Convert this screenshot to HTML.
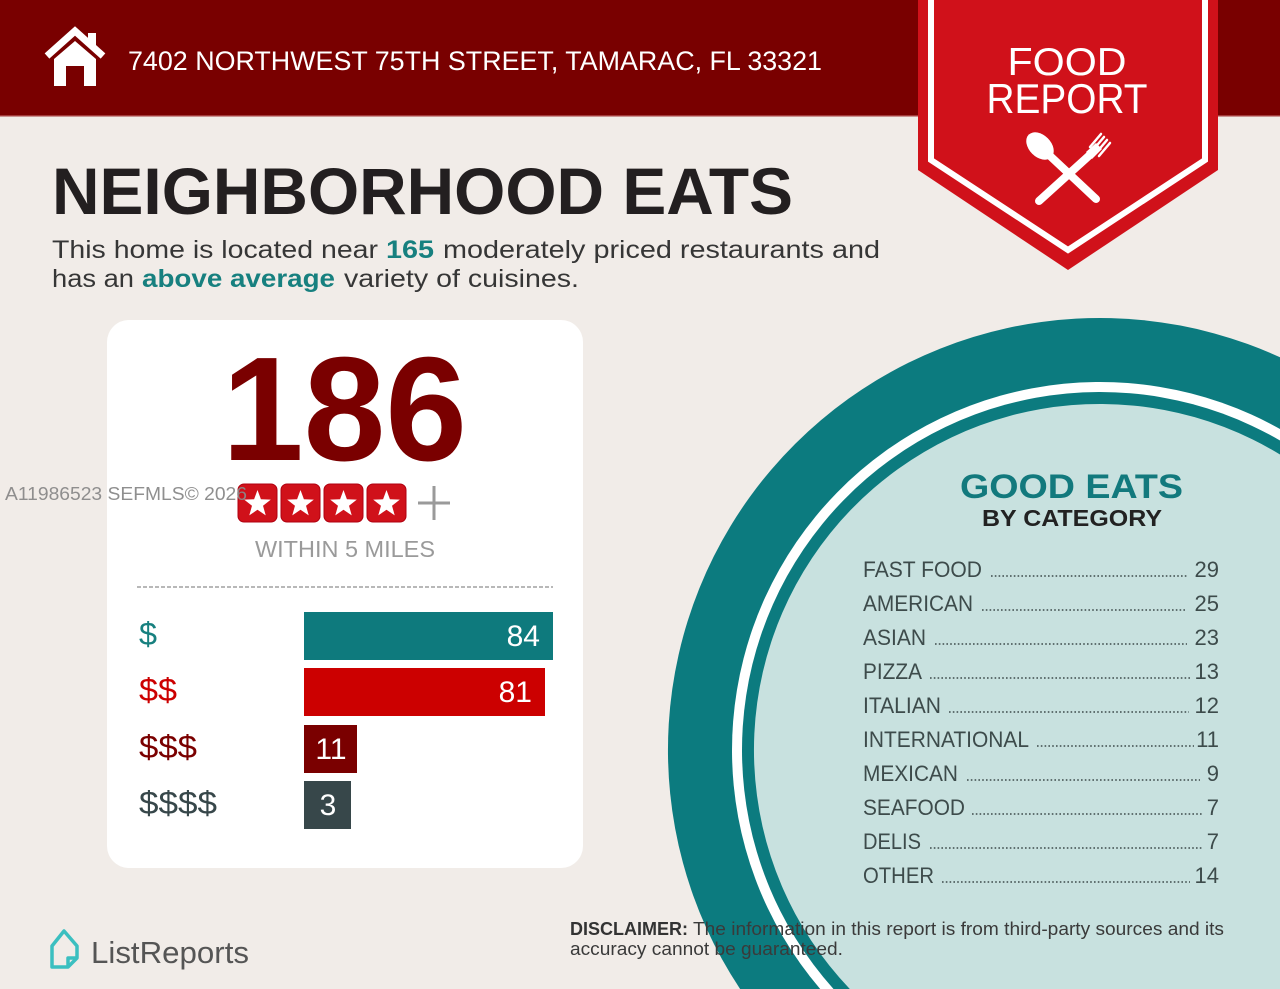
<!DOCTYPE html>
<html>
<head>
<meta charset="utf-8">
<style>
html,body{margin:0;padding:0;background:#f1ece8;width:1280px;height:989px;overflow:hidden;}
svg{display:block;}
text{font-family:"Liberation Sans",Arial,sans-serif;}
</style>
</head>
<body>
<svg width="1280" height="989" viewBox="0 0 1280 989" xmlns="http://www.w3.org/2000/svg" overflow="hidden">
  <rect x="0" y="0" width="1280" height="989" fill="#f1ece8"/>

  <!-- Header -->
  <rect x="0" y="0" width="1280" height="116" fill="#790000"/>
  <rect x="0" y="115" width="1280" height="1.5" fill="#a33a3a"/>

  <!-- House icon -->
  <polyline points="47,56 75,31 103,56" fill="none" stroke="#fff" stroke-width="7" stroke-linejoin="miter"/>
  <rect x="88" y="33" width="8" height="14" fill="#fff"/>
  <polygon points="54,59 75,41 96,59 96,86 84,86 84,66 66,66 66,86 54,86" fill="#fff"/>

  <text x="128" y="70" font-size="27" fill="#fff" textLength="694" lengthAdjust="spacingAndGlyphs">7402 NORTHWEST 75TH STREET, TAMARAC, FL 33321</text>

  <!-- Badge -->
  <polygon points="918,0 1218,0 1218,170 1068,270 918,170" fill="#d0111a"/>
  <polyline points="931,0 931,160 1068,250 1205,160 1205,0" fill="none" stroke="#fff" stroke-width="6"/>
  <text x="1067" y="75" font-size="39" fill="#fff" text-anchor="middle" textLength="119" lengthAdjust="spacingAndGlyphs">FOOD</text>
  <text x="1067" y="113" font-size="42" fill="#fff" text-anchor="middle" textLength="161" lengthAdjust="spacingAndGlyphs">REPORT</text>
  <!-- spoon -->
  <line x1="1048" y1="154" x2="1096" y2="199" stroke="#fff" stroke-width="8" stroke-linecap="round"/>
  <ellipse cx="1040" cy="146" rx="16" ry="11" transform="rotate(45 1040 146)" fill="#fff"/>
  <!-- fork -->
  <line x1="1092" y1="153" x2="1039" y2="201" stroke="#fff" stroke-width="8" stroke-linecap="round"/>
  <path d="M1086,152 L1096,143 L1102,149 L1092,159 Z" fill="#fff"/>
  <g stroke="#fff" stroke-width="2.5" stroke-linecap="round">
    <line x1="1090" y1="147" x2="1101" y2="134"/>
    <line x1="1093" y1="150" x2="1104" y2="137"/>
    <line x1="1096" y1="153" x2="1107" y2="140"/>
    <line x1="1099" y1="156" x2="1110" y2="143"/>
  </g>

  <!-- Title -->
  <text x="52" y="214" font-size="66" font-weight="bold" fill="#231f20" textLength="741" lengthAdjust="spacingAndGlyphs">NEIGHBORHOOD EATS</text>

  <!-- Paragraph -->
  <text x="52" y="258" font-size="25" fill="#363636" textLength="326" lengthAdjust="spacingAndGlyphs">This home is located near</text>
  <text x="386" y="258" font-size="25" font-weight="bold" fill="#17807f" textLength="48" lengthAdjust="spacingAndGlyphs">165</text>
  <text x="443" y="258" font-size="25" fill="#363636" textLength="437" lengthAdjust="spacingAndGlyphs">moderately priced restaurants and</text>
  <text x="52" y="287" font-size="25" fill="#363636" textLength="82" lengthAdjust="spacingAndGlyphs">has an</text>
  <text x="142" y="287" font-size="25" font-weight="bold" fill="#17807f" textLength="193" lengthAdjust="spacingAndGlyphs">above average</text>
  <text x="344" y="287" font-size="25" fill="#363636" textLength="235" lengthAdjust="spacingAndGlyphs">variety of cuisines.</text>

  <!-- Card -->
  <rect x="107" y="320" width="476" height="548" rx="22" ry="22" fill="#ffffff"/>
  <text x="222" y="460" font-size="148" font-weight="bold" fill="#7a0000" textLength="245" lengthAdjust="spacingAndGlyphs">186</text>

  <!-- Stars -->
  <g fill="#d0111a" stroke="#b00010" stroke-width="1">
    <rect x="238" y="484" width="39" height="38" rx="6"/>
    <rect x="281" y="484" width="39" height="38" rx="6"/>
    <rect x="324" y="484" width="39" height="38" rx="6"/>
    <rect x="367" y="484" width="39" height="38" rx="6"/>
  </g>
  <g fill="#fff">
    <polygon transform="translate(257.5 504)" points="0,-14 3.41,-4.69 13.31,-4.33 5.52,1.79 8.23,11.33 0,5.8 -8.23,11.33 -5.52,1.79 -13.31,-4.33 -3.41,-4.69"/>
    <polygon transform="translate(300.5 504)" points="0,-14 3.41,-4.69 13.31,-4.33 5.52,1.79 8.23,11.33 0,5.8 -8.23,11.33 -5.52,1.79 -13.31,-4.33 -3.41,-4.69"/>
    <polygon transform="translate(343.5 504)" points="0,-14 3.41,-4.69 13.31,-4.33 5.52,1.79 8.23,11.33 0,5.8 -8.23,11.33 -5.52,1.79 -13.31,-4.33 -3.41,-4.69"/>
    <polygon transform="translate(386.5 504)" points="0,-14 3.41,-4.69 13.31,-4.33 5.52,1.79 8.23,11.33 0,5.8 -8.23,11.33 -5.52,1.79 -13.31,-4.33 -3.41,-4.69"/>
  </g>
  <g stroke="#9a9a9a" stroke-width="3">
    <line x1="418" y1="503" x2="450" y2="503"/>
    <line x1="434" y1="486" x2="434" y2="520"/>
  </g>

  <text x="255" y="557" font-size="23" fill="#9a9a9a" textLength="180" lengthAdjust="spacingAndGlyphs">WITHIN 5 MILES</text>
  <line x1="137" y1="587" x2="553" y2="587" stroke="#a0a0a0" stroke-width="1.5" stroke-dasharray="4 2"/>

  <!-- Bars -->
  <rect x="304" y="612" width="249" height="48" fill="#0e7a7d"/>
  <rect x="304" y="668" width="241" height="48" fill="#cc0000"/>
  <rect x="304" y="725" width="53" height="48" fill="#7a0000"/>
  <rect x="304" y="781" width="47" height="48" fill="#37474a"/>
  <text x="540" y="646" font-size="30" fill="#fff" text-anchor="end">84</text>
  <text x="532" y="702" font-size="30" fill="#fff" text-anchor="end">81</text>
  <text x="331" y="759" font-size="30" fill="#fff" text-anchor="middle">11</text>
  <text x="328" y="815" font-size="30" fill="#fff" text-anchor="middle">3</text>

  <text x="139" y="645" font-size="32" fill="#17807f" textLength="18" lengthAdjust="spacingAndGlyphs">$</text>
  <text x="139" y="701" font-size="32" fill="#cc0000" textLength="38" lengthAdjust="spacingAndGlyphs">$$</text>
  <text x="139" y="758" font-size="32" fill="#7a0000" textLength="58" lengthAdjust="spacingAndGlyphs">$$$</text>
  <text x="139" y="814" font-size="32" fill="#37474a" textLength="78" lengthAdjust="spacingAndGlyphs">$$$$</text>

  <!-- Circle rings as in-frame arc paths (center 1100,750) -->
  <path d="M740.1,989 A432,432 0 0 1 1280,357.3 L1280,989 Z" fill="#0c7b7f"/>
  <path d="M820.2,989 A368,368 0 0 1 1280,429.0 L1280,989 Z" fill="#ffffff"/>
  <path d="M833.5,989 A358,358 0 0 1 1280,440.5 L1280,989 Z" fill="#0c7b7f"/>
  <path d="M849.8,989 A346,346 0 0 1 1280,454.5 L1280,989 Z" fill="#c8e1df"/>

  <text x="960" y="498" font-size="34" font-weight="bold" fill="#12797d" textLength="223" lengthAdjust="spacingAndGlyphs">GOOD EATS</text>
  <text x="982" y="526" font-size="23" font-weight="bold" fill="#222" textLength="180" lengthAdjust="spacingAndGlyphs">BY CATEGORY</text>

  <!-- List -->
  <g font-size="22" fill="#3d4b4b">
    <text x="863" y="577" textLength="119" lengthAdjust="spacingAndGlyphs">FAST FOOD</text>
    <text x="1219" y="577" text-anchor="end">29</text>
    <text x="863" y="611" textLength="110" lengthAdjust="spacingAndGlyphs">AMERICAN</text>
    <text x="1219" y="611" text-anchor="end">25</text>
    <text x="863" y="645" textLength="63" lengthAdjust="spacingAndGlyphs">ASIAN</text>
    <text x="1219" y="645" text-anchor="end">23</text>
    <text x="863" y="679" textLength="59" lengthAdjust="spacingAndGlyphs">PIZZA</text>
    <text x="1219" y="679" text-anchor="end">13</text>
    <text x="863" y="713" textLength="78" lengthAdjust="spacingAndGlyphs">ITALIAN</text>
    <text x="1219" y="713" text-anchor="end">12</text>
    <text x="863" y="747" textLength="166" lengthAdjust="spacingAndGlyphs">INTERNATIONAL</text>
    <text x="1219" y="747" text-anchor="end">11</text>
    <text x="863" y="781" textLength="95" lengthAdjust="spacingAndGlyphs">MEXICAN</text>
    <text x="1219" y="781" text-anchor="end">9</text>
    <text x="863" y="815" textLength="102" lengthAdjust="spacingAndGlyphs">SEAFOOD</text>
    <text x="1219" y="815" text-anchor="end">7</text>
    <text x="863" y="849" textLength="58" lengthAdjust="spacingAndGlyphs">DELIS</text>
    <text x="1219" y="849" text-anchor="end">7</text>
    <text x="863" y="883" textLength="71" lengthAdjust="spacingAndGlyphs">OTHER</text>
    <text x="1219" y="883" text-anchor="end">14</text>
  </g>
  <g stroke="#3d4b4b" stroke-width="1.6" stroke-dasharray="1.6 2.2">
    <line x1="991" y1="576" x2="1187" y2="576"/>
    <line x1="982" y1="610" x2="1187" y2="610"/>
    <line x1="935" y1="644" x2="1187" y2="644"/>
    <line x1="930" y1="678" x2="1190" y2="678"/>
    <line x1="949" y1="712" x2="1189" y2="712"/>
    <line x1="1037" y1="746" x2="1194" y2="746"/>
    <line x1="967" y1="780" x2="1200" y2="780"/>
    <line x1="972" y1="814" x2="1202" y2="814"/>
    <line x1="930" y1="848" x2="1202" y2="848"/>
    <line x1="942" y1="882" x2="1190" y2="882"/>
  </g>

  <!-- Disclaimer -->
  <text x="570" y="935" font-size="18" font-weight="bold" fill="#333" textLength="118" lengthAdjust="spacingAndGlyphs">DISCLAIMER:</text>
  <text x="693" y="935" font-size="18" fill="#3a3a3a" textLength="531" lengthAdjust="spacingAndGlyphs">The information in this report is from third-party sources and its</text>
  <text x="570" y="955" font-size="18" fill="#3a3a3a" textLength="273" lengthAdjust="spacingAndGlyphs">accuracy cannot be guaranteed.</text>

  <!-- ListReports logo -->
  <g fill="none" stroke="#3bbfc0" stroke-width="3.5" stroke-linejoin="round">
    <path d="M52,946 L64,931 L77,946 L77,958 L68,967 L52,967 Z"/>
    <path d="M77,958 L68,958 L68,967"/>
  </g>
  <text x="91" y="963" font-size="31" fill="#555" textLength="158" lengthAdjust="spacingAndGlyphs">ListReports</text>

  <!-- Watermark -->
  <text x="5" y="500" font-size="18" fill="#8a8a8a" textLength="242" lengthAdjust="spacingAndGlyphs" opacity="0.95">A11986523  SEFMLS© 2026</text>
</svg>
</body>
</html>
